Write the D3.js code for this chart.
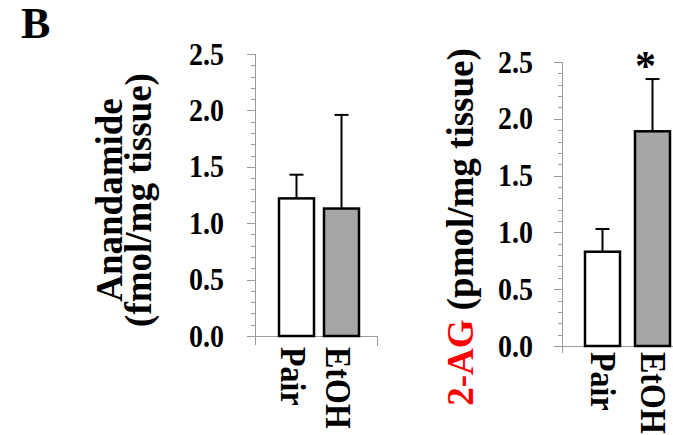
<!DOCTYPE html>
<html><head><meta charset="utf-8">
<script src="https://cdn.jsdelivr.net/npm/d3@7"></script>
<style>
html,body{margin:0;padding:0;background:#fff;}
text{font-family:"Liberation Serif","Times New Roman",serif;font-weight:bold;}
</style></head>
<body>
<svg id="chart" width="673" height="435"></svg>
<script>
const categories = ["Pair", "EtOH"];
const anandamideMean = [1.22, 1.13];
const anandamideErr = [0.21, 0.83];
const agMean = [0.83, 1.89];
const agErr = [0.20, 0.46];
const tickValues = [0, 0.5, 1.0, 1.5, 2.0, 2.5];
const tickLabels = ["0.0", "0.5", "1.0", "1.5", "2.0", "2.5"];
const barFills = ["#ffffff", "#a6a6a6"];
const significance = ["", "*"];

const svg = d3.select("#chart");

svg.append("text").attr("x", 21).attr("y", 38).attr("font-size", 44).text("B");

function panel(cfg) {
  const y = d3.scaleLinear().domain([0, 2.5]).range([cfg.y0, cfg.y1]);
  const x = d3.scaleBand().domain(categories).range(cfg.xRange).paddingInner(cfg.pad).paddingOuter(0);
  const g = svg.append("g");
  const grey = "#9a9a9a";
  const minor = d3.range(0, 26).map(d => d / 10);
  g.append("g").selectAll("line").data(minor).join("line")
    .attr("x1", d => (Math.round(d * 10) % 5 === 0) ? cfg.axisX - 8 : cfg.axisX - 4)
    .attr("x2", cfg.axisX)
    .attr("y1", d => Math.round(y(d)) + 0.5).attr("y2", d => Math.round(y(d)) + 0.5)
    .attr("stroke", grey).attr("stroke-width", 1);
  g.append("line").attr("x1", cfg.axisX + 0.5).attr("x2", cfg.axisX + 0.5)
    .attr("y1", y(2.5)).attr("y2", cfg.y0 + cfg.axisExt)
    .attr("stroke", grey).attr("stroke-width", 1);
  g.append("line").attr("x1", cfg.axisX).attr("x2", cfg.xEnd)
    .attr("y1", cfg.y0 + 0.5).attr("y2", cfg.y0 + 0.5)
    .attr("stroke", grey).attr("stroke-width", 1);
  if (cfg.endTick) {
    g.append("line").attr("x1", cfg.xEnd - 0.5).attr("x2", cfg.xEnd - 0.5)
      .attr("y1", cfg.y0).attr("y2", cfg.y0 + 10)
      .attr("stroke", grey).attr("stroke-width", 1);
  }
  g.append("g").selectAll("text").data(tickValues).join("text")
    .attr("transform", d => `translate(${cfg.labelRight},${y(d) + 10.5}) scale(1,1.1)`)
    .attr("text-anchor", "end").attr("font-size", 28)
    .text((d, i) => tickLabels[i]);
  const eb = g.append("g");
  categories.forEach((c, i) => {
    const cx = x(c) + x.bandwidth() / 2;
    const top = cfg.mean[i] + cfg.err[i];
    eb.append("line").attr("x1", cx).attr("x2", cx).attr("y1", y(cfg.mean[i])).attr("y2", y(top))
      .attr("stroke", "#000").attr("stroke-width", 2);
    eb.append("line").attr("x1", cx - 7).attr("x2", cx + 7).attr("y1", y(top)).attr("y2", y(top))
      .attr("stroke", "#000").attr("stroke-width", 2);
    if (significance[i] && cfg.sig) {
      g.append("text").attr("x", cx - 7).attr("y", y(top) + 1).attr("text-anchor", "middle")
        .attr("font-size", 42).text(significance[i]);
    }
  });
  g.append("g").selectAll("rect").data(categories).join("rect")
    .attr("x", d => x(d)).attr("width", x.bandwidth())
    .attr("y", (d, i) => y(cfg.mean[i])).attr("height", (d, i) => y(0) - y(cfg.mean[i]))
    .attr("fill", (d, i) => barFills[i]).attr("stroke", "#000").attr("stroke-width", 2.5);
  g.append("g").selectAll("text").data(categories).join("text")
    .attr("transform", d => `translate(${x(d) + x.bandwidth() / 2 + cfg.catShift - 12},${cfg.catTop}) rotate(90) scale(1,1.12)`)
    .attr("font-size", 32).text(d => d);
  return {x, y};
}

panel({y0: 336, y1: 54, axisX: 255, axisExt: 9, xEnd: 378, endTick: true,
  xRange: [279, 359], pad: 10 / 45, labelRight: 224,
  mean: anandamideMean, err: anandamideErr, sig: false, catShift: -4, catTop: 347});

panel({y0: 346, y1: 62, axisX: 562, axisExt: 7, xEnd: 690, endTick: false,
  xRange: [585, 670], pad: 0.3, labelRight: 533,
  mean: agMean, err: agErr, sig: true, catShift: 0, catTop: 352});

const t1 = svg.append("text").attr("transform", "translate(122,200) rotate(-90)")
  .attr("text-anchor", "middle").attr("font-size", 37);
t1.append("tspan").attr("x", 0).attr("y", 0).text("Anandamide");
t1.append("tspan").attr("x", 0).attr("y", 29).text("(fmol/mg tissue)");

const t2 = svg.append("text").attr("transform", "translate(473,227) rotate(-90)")
  .attr("text-anchor", "middle").attr("font-size", 37);
t2.append("tspan").attr("fill", "#ff0000").text("2-AG");
t2.append("tspan").attr("fill", "#000").text(" (pmol/mg tissue)");
</script>
</body></html>
